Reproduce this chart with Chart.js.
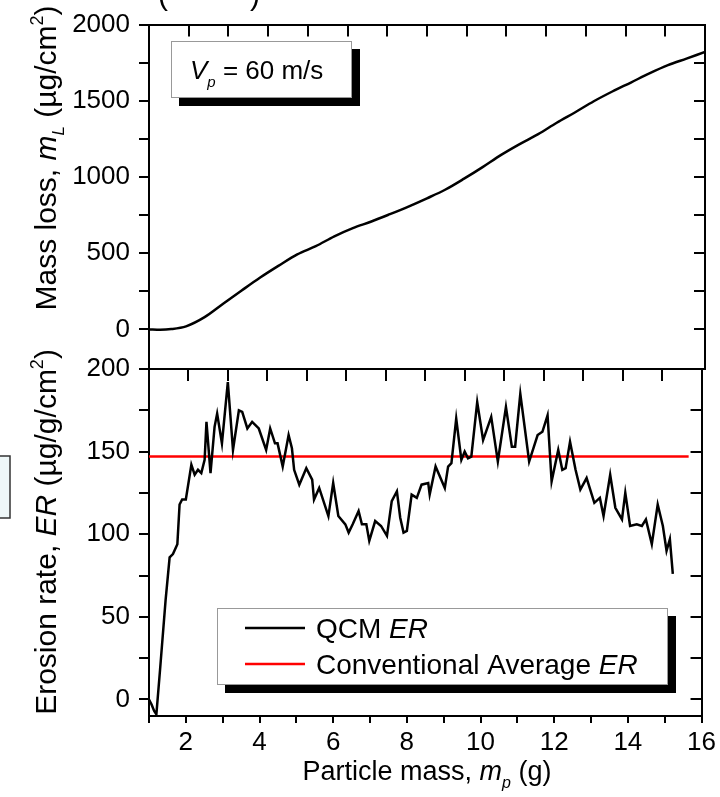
<!DOCTYPE html>
<html>
<head>
<meta charset="utf-8">
<script src="https://cdn.jsdelivr.net/npm/chart.js@4/dist/chart.umd.min.js"></script>
<style>
  html, body { margin: 0; padding: 0; background: #fff; }
  #wrap { position: relative; width: 720px; height: 797px; }
  #wrap canvas { position: absolute; left: 0; top: 0; }
</style>
</head>
<body>
<div id="wrap">
  <canvas id="topChart" width="720" height="797"></canvas>
  <canvas id="bottomChart" width="720" height="797"></canvas>
</div>
<script>
// top panel: mass loss vs particle mass
const massX = [1, 1.3, 1.6, 2.0, 2.5, 3.0, 3.5, 4.0, 4.5, 5.0, 5.5, 6.0, 6.5, 7.0, 7.5, 8.0,
    8.5, 9.0, 9.5, 10, 10.5, 11, 11.5, 12, 12.5, 13, 13.5, 14, 14.5, 15, 15.5, 16]
const massY = [0, -2, 2, 20, 80, 168, 255, 340, 418, 492, 546, 611, 665, 708, 756, 806,
    860, 918, 989, 1065, 1145, 1216, 1281, 1356, 1425, 1497, 1561, 1620, 1680, 1734, 1777, 1820]

// bottom panel: QCM erosion rate
const erX = [1.0, 1.07, 1.14, 1.2, 1.3, 1.45, 1.56, 1.65, 1.77, 1.83, 1.9, 2.0, 2.15, 2.24, 2.33, 2.42,
    2.51, 2.56, 2.67, 2.78, 2.85, 2.98, 3.14, 3.28, 3.44, 3.53, 3.67, 3.8, 3.98, 4.18, 4.29, 4.42,
    4.49, 4.63, 4.79, 4.88, 4.94, 5.08, 5.27, 5.43, 5.48, 5.62, 5.87, 6.0, 6.14, 6.33, 6.42, 6.53,
    6.69, 6.78, 6.9, 6.98, 7.14, 7.3, 7.46, 7.59, 7.73, 7.82, 7.91, 8.0, 8.13, 8.27, 8.4, 8.58,
    8.62, 8.78, 9.03, 9.12, 9.21, 9.34, 9.48, 9.57, 9.66, 9.75, 9.91, 10.07, 10.29, 10.47, 10.69, 10.85,
    10.94, 11.08, 11.32, 11.55, 11.68, 11.82, 11.93, 12.11, 12.22, 12.31, 12.43, 12.58, 12.71, 12.88, 13.09, 13.24,
    13.34, 13.52, 13.66, 13.84, 13.93, 14.06, 14.24, 14.38, 14.49, 14.65, 14.81, 14.95, 15.05, 15.14, 15.22]
const erY = [0, -3, -7, -9, 18, 60, 86, 88, 94, 118, 121, 121, 142, 136, 139, 137,
    145, 168, 137, 165, 173, 155, 192, 151, 175, 174, 164, 168, 164, 151, 164, 155,
    155, 141, 160, 152, 139, 130, 140, 133, 121, 128, 111, 131, 111, 106, 101, 106,
    114, 106, 106, 96, 108, 105, 99, 120, 126, 110, 101, 102, 124, 122, 130, 131,
    124, 141, 128, 141, 143, 170, 145, 150, 146, 147, 180, 157, 171, 144, 177, 153,
    153, 185, 144, 160, 162, 172, 132, 151, 139, 140, 156, 139, 127, 134, 119, 122,
    111, 136, 116, 109, 125, 105, 106, 105, 109, 94, 118, 105, 90, 97, 76]

// conventional average erosion rate
const avgX = [1, 15.65]
const avgY = [147, 147]

// tick positions (labels only on every second one)
const massTicks = [0, 250, 500, 750, 1000, 1250, 1500, 1750, 2000]
const erTicks = [0, 25, 50, 75, 100, 125, 150, 175, 200]
const xTicks = [1, 2, 3, 4, 5, 6, 7, 8, 9, 10, 11, 12, 13, 14, 15, 16]
const topTicks = [0, 1, 2, 3, 4, 5, 6, 7, 8, 9, 10, 11, 12, 13, 14]

const FONT = '"Liberation Sans", Arial, sans-serif'
Chart.defaults.font.family = FONT
Chart.defaults.color = '#000'

function pts(xs, ys) {
    return xs.map((x, i) => ({ x, y: ys[i] }))
}

// mixed-style text runs: [text, style, size, dy]
function drawRuns(ctx, runs, x, y, align, rotate) {
    ctx.save()
    ctx.translate(x, y)
    if (rotate) ctx.rotate(-Math.PI / 2)
    ctx.textBaseline = 'alphabetic'
    ctx.textAlign = 'left'
    ctx.fillStyle = '#000'
    const widths = runs.map(r => {
        ctx.font = `${r[1]} ${r[2]}px ${FONT}`
        return ctx.measureText(r[0]).width
    })
    const total = widths.reduce((a, b) => a + b, 0)
    let cx = align === 'center' ? -total / 2 : 0
    runs.forEach((r, i) => {
        ctx.font = `${r[1]} ${r[2]}px ${FONT}`
        ctx.fillText(r[0], cx, r[3] || 0)
        cx += widths[i]
    })
    ctx.restore()
}

function shadowBox(ctx, x1, y1, x2, y2, off) {
    ctx.save()
    ctx.fillStyle = '#000'
    ctx.fillRect(x1 + off, y1 + off, x2 - x1, y2 - y1)
    ctx.fillStyle = '#fff'
    ctx.fillRect(x1, y1, x2 - x1, y2 - y1)
    ctx.strokeStyle = '#999'
    ctx.lineWidth = 1
    ctx.strokeRect(x1 + 0.5, y1 + 0.5, x2 - x1 - 1, y2 - y1 - 1)
    ctx.restore()
}

const fixW = w => s => { s.width = w }
const fixH = h => s => { s.height = h }
const useTicks = list => s => { s.ticks = list.map(v => ({ value: v })) }

const tickFont = { size: 26 }
const gridTicks = (len) => ({
    drawOnChartArea: false,
    drawTicks: true,
    tickLength: len,
    color: '#000',
    lineWidth: 2
})
const borderLine = { display: true, color: '#000', width: 2 }

const topPlugin = {
    id: 'topText',
    afterDraw(chart) {
        const ctx = chart.ctx
        // cropped fragment of a caption above
        ctx.save()
        ctx.font = `30px ${FONT}`
        ctx.fillStyle = '#000'
        ctx.fillText('(', 158, 5)
        ctx.fillText(')', 250, 5)
        ctx.restore()

        shadowBox(ctx, 171, 41, 352, 98, 8)
        drawRuns(ctx, [
            ['V', 'italic', 26, 0],
            ['p', 'italic', 15, 8],
            [' = 60 m/s', 'normal', 26, 0]
        ], 190, 79, 'left', false)

        drawRuns(ctx, [
            ['Mass loss, ', 'normal', 30, 0],
            ['m', 'italic', 30, 0],
            ['L', 'italic', 17, 8],
            [' (\u00b5g/cm', 'normal', 30, 0],
            ['2', 'normal', 18, -13],
            [')', 'normal', 30, 0]
        ], 56, 158, 'center', true)
    }
}

const bottomPlugin = {
    id: 'bottomText',
    afterDraw(chart) {
        const ctx = chart.ctx
        // edge of a neighbouring panel's box
        ctx.save()
        ctx.fillStyle = '#eef7f8'
        ctx.strokeStyle = '#333'
        ctx.lineWidth = 1.5
        ctx.fillRect(-5, 456, 15, 62)
        ctx.strokeRect(-5, 456, 15, 62)
        ctx.restore()

        shadowBox(ctx, 217, 608, 668, 685, 8)
        ctx.save()
        ctx.lineWidth = 2.5
        ctx.strokeStyle = '#000'
        ctx.beginPath(); ctx.moveTo(245, 628); ctx.lineTo(305, 628); ctx.stroke()
        ctx.strokeStyle = '#ff0000'
        ctx.beginPath(); ctx.moveTo(245, 664); ctx.lineTo(305, 664); ctx.stroke()
        ctx.restore()
        drawRuns(ctx, [
            ['QCM ', 'normal', 28, 0],
            ['ER', 'italic', 28, 0]
        ], 316, 638, 'left', false)
        drawRuns(ctx, [
            ['Conventional Average ', 'normal', 28, 0],
            ['ER', 'italic', 28, 0]
        ], 316, 674, 'left', false)

        drawRuns(ctx, [
            ['Erosion rate, ', 'normal', 30, 0],
            ['ER', 'italic', 30, 0],
            [' (\u00b5g/g/cm', 'normal', 30, 0],
            ['2', 'normal', 18, -13],
            [')', 'normal', 30, 0]
        ], 56, 532, 'center', true)

        drawRuns(ctx, [
            ['Particle mass, ', 'normal', 27, 0],
            ['m', 'italic', 27, 0],
            ['p', 'italic', 16, 8],
            [' (g)', 'normal', 27, 0]
        ], 427, 780, 'center', false)
    }
}

new Chart(document.getElementById('topChart').getContext('2d'), {
    type: 'line',
    data: {
        datasets: [{
            data: pts(massX, massY),
            borderColor: '#000',
            borderWidth: 2.5,
            pointRadius: 0,
            cubicInterpolationMode: 'monotone'
        }]
    },
    options: {
        responsive: false,
        animation: false,
        events: [],
        layout: { padding: 0 },
        plugins: { legend: { display: false }, tooltip: { enabled: false } },
        scales: {
            x: {
                type: 'linear', position: 'bottom', min: 1, max: 16,
                ticks: { display: false },
                grid: { drawOnChartArea: false, drawTicks: false },
                border: borderLine,
                afterFit: fixH(428)
            },
            xTop: {
                type: 'linear', position: 'top', min: 0, max: 14,
                ticks: { display: false },
                grid: gridTicks(-12),
                border: borderLine,
                afterBuildTicks: useTicks(topTicks),
                afterFit: fixH(21)
            },
            y: {
                position: 'left', min: -260, max: 2000,
                ticks: {
                    padding: 9, font: tickFont,
                    callback: v => (v % 500 === 0 ? v : '')
                },
                grid: gridTicks(10),
                border: borderLine,
                afterBuildTicks: useTicks(massTicks),
                afterFit: fixW(149)
            },
            yR: {
                position: 'right', min: -260, max: 2000,
                ticks: { display: false },
                grid: gridTicks(-11),
                border: borderLine,
                afterBuildTicks: useTicks(massTicks),
                afterFit: fixW(15)
            }
        }
    },
    plugins: [topPlugin]
})

new Chart(document.getElementById('bottomChart').getContext('2d'), {
    type: 'line',
    data: {
        datasets: [{
            data: pts(erX, erY),
            borderColor: '#000',
            borderWidth: 2.5,
            pointRadius: 0,
            tension: 0
        }, {
            data: pts(avgX, avgY),
            borderColor: '#ff0000',
            borderWidth: 2.5,
            pointRadius: 0
        }]
    },
    options: {
        responsive: false,
        animation: false,
        events: [],
        layout: { padding: 0 },
        plugins: { legend: { display: false }, tooltip: { enabled: false } },
        scales: {
            x: {
                type: 'linear', position: 'bottom', min: 1, max: 16,
                ticks: {
                    autoSkip: false, maxRotation: 0, padding: 4, font: tickFont,
                    callback: v => (v % 2 === 0 ? v : '')
                },
                grid: gridTicks(7),
                border: borderLine,
                afterBuildTicks: useTicks(xTicks),
                afterFit: fixH(81)
            },
            xTop: {
                type: 'linear', position: 'top', min: 0, max: 14,
                ticks: { display: false },
                grid: gridTicks(-12),
                border: borderLine,
                afterBuildTicks: useTicks(topTicks),
                afterFit: fixH(369)
            },
            y: {
                position: 'left', min: -10, max: 200,
                ticks: {
                    padding: 9, font: tickFont,
                    callback: v => (v % 50 === 0 ? v : '')
                },
                grid: gridTicks(10),
                border: borderLine,
                afterBuildTicks: useTicks(erTicks),
                afterFit: fixW(149)
            },
            yR: {
                position: 'right', min: -10, max: 200,
                ticks: { display: false },
                grid: gridTicks(-11),
                border: borderLine,
                afterBuildTicks: useTicks(erTicks),
                afterFit: fixW(15)
            }
        }
    },
    plugins: [bottomPlugin]
})
</script>
</body>
</html>
